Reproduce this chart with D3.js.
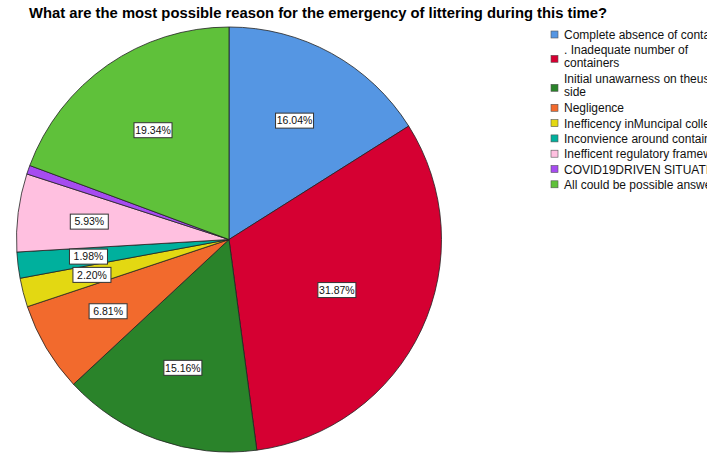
<!DOCTYPE html>
<html>
<head>
<meta charset="utf-8">
<script src="https://cdn.jsdelivr.net/npm/d3@7"></script>
<style>
  body { margin: 0; background: #fff; overflow: hidden; }
  svg { display: block; font-family: "Liberation Sans", Arial, sans-serif; }
</style>
</head>
<body>
<div id="wrapper"></div>
<script>
const width = 707, height = 455;

// data (order = legend order, clockwise from 12 o'clock)
const reasons = [
  "Complete absence of containers",
  ". Inadequate number of\ncontainers",
  "Initial unawarness on theuser's\nside",
  "Negligence",
  "Inefficency inMuncipal collection",
  "Inconvience around containers",
  "Inefficent regulatory framework",
  "COVID19DRIVEN SITUATION",
  "All could be possible answers"
];
const percents = [16.04, 31.87, 15.16, 6.81, 2.20, 1.98, 5.93, 0.67, 19.34];
const colors = ["#5596e3", "#d50032", "#2a832a", "#f26a2d", "#e3d812", "#00b09d", "#ffc0e0", "#a64cf0", "#5fc13a"];
const title = "What are the most possible reason for the emergency of littering during this time?";

const cx = 229, cy = 239.5, radius = 212.5;

const svg = d3.select("#wrapper").append("svg")
    .attr("width", width)
    .attr("height", height);

svg.append("text")
    .attr("x", 318).attr("y", 18)
    .attr("text-anchor", "middle")
    .attr("font-size", 14.8)
    .attr("font-weight", "bold")
    .attr("fill", "#000")
    .text(title);

const data = percents.map((v, i) => ({ name: reasons[i], value: v, color: colors[i] }));

const pie = d3.pie().value(d => d.value).sort(null);
const arc = d3.arc().innerRadius(0).outerRadius(radius);

// label sits on the geometric centroid of each sector
function labelPos(d) {
    const half = (d.endAngle - d.startAngle) / 2;
    const mid = d.startAngle + half;
    const dist = 2 * radius * Math.sin(half) / (3 * half);
    return [dist * Math.sin(mid), -dist * Math.cos(mid)];
}

const g = svg.append("g").attr("transform", `translate(${cx},${cy})`);
const arcs = pie(data);

g.selectAll("path.slice")
    .data(arcs)
    .enter().append("path")
    .attr("class", "slice")
    .attr("d", arc)
    .attr("fill", d => d.data.color)
    .attr("stroke", "#222")
    .attr("stroke-width", 0.8)
    .attr("stroke-linejoin", "round");

// labels only for slices >= 1%
const labels = g.selectAll("g.lbl")
    .data(arcs.filter(d => d.data.value >= 1))
    .enter().append("g")
    .attr("class", "lbl")
    .attr("transform", d => "translate(" + labelPos(d) + ")");

labels.append("rect")
    .attr("x", -19).attr("y", -7.5)
    .attr("width", 38).attr("height", 15)
    .attr("fill", "#fff")
    .attr("stroke", "#333")
    .attr("stroke-width", 1);

labels.append("text")
    .attr("text-anchor", "middle")
    .attr("dy", "0.36em")
    .attr("font-size", 10.5)
    .attr("fill", "#111")
    .text(d => d.data.value.toFixed(2) + "%");

// legend
const legend = svg.append("g").attr("transform", "translate(551,0)");
let ly = 35;
data.forEach(d => {
    const lines = d.name.split("\n");
    const item = legend.append("g").attr("transform", `translate(0,${ly})`);
    const boxY = lines.length > 1 ? 5 : -4;
    item.append("rect")
        .attr("x", 0).attr("y", boxY)
        .attr("width", 7).attr("height", 7)
        .attr("fill", d.color)
        .attr("stroke", "#555")
        .attr("stroke-width", 0.6);
    const t = item.append("text")
        .attr("x", 13).attr("y", 4)
        .attr("font-size", 12)
        .attr("fill", "#111");
    lines.forEach((s, j) => {
        t.append("tspan").attr("x", 13).attr("dy", j === 0 ? 0 : 13).text(s);
    });
    ly += lines.length > 1 ? 29 : 15.3;
});
</script>
</body>
</html>
